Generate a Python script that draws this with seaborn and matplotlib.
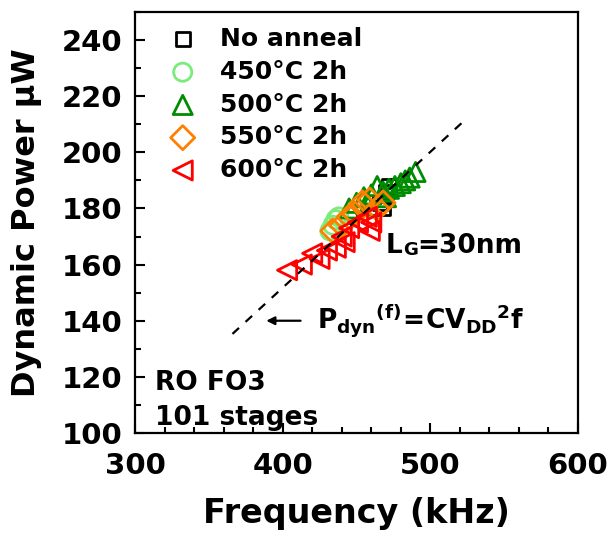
import matplotlib
matplotlib.use("Agg")
import matplotlib.pyplot as plt
from matplotlib.ticker import MultipleLocator
import numpy as np
import pandas as pd
import seaborn as sns

# Ring-oscillator measurements: frequency (kHz) vs dynamic power (uW)
series_names = ["No anneal", "450°C 2h", "500°C 2h", "550°C 2h", "600°C 2h"]

no_anneal_freq = [466, 468, 470, 472]
no_anneal_power = [182, 180, 186, 188]

a450_freq = [432, 434, 436, 438]
a450_power = [172, 174, 176, 177]

a500_freq = [445, 450, 455, 458, 460, 464, 468, 470, 472, 476, 480, 483, 486, 490]
a500_power = [180, 182, 184, 181, 185, 188, 186, 184, 187, 188, 189, 190, 191, 193]

a550_freq = [434, 440, 445, 449, 454, 459, 464, 468]
a550_power = [172, 174, 177, 178, 182, 183, 180, 182]

a600_freq = [403, 413, 420, 425, 430, 436, 440, 442, 445, 451, 457, 459, 460]
a600_power = [158, 160, 164, 162, 165, 166, 170, 168, 173, 175, 177, 172, 175]

# Reference line P_dyn = C * V_DD^2 * f
fit_freq = [366, 523]
fit_power = [135.3, 211.3]

series_freq = [no_anneal_freq, a450_freq, a500_freq, a550_freq, a600_freq]
series_power = [no_anneal_power, a450_power, a500_power, a550_power, a600_power]
series_colors = ["#000000", "#7CEB7C", "#008C00", "#FF8000", "#FF0000"]
series_markers = ["s", "o", "^", "D", "<"]
series_sizes = [100, 170, 190, 150, 190]

sns.set_theme(style="ticks")
plt.rcParams["font.family"] = ["DejaVu Sans"]
plt.rcParams["font.weight"] = "bold"
for key in ["text.color", "axes.labelcolor", "xtick.color", "ytick.color",
            "axes.edgecolor"]:
    plt.rcParams[key] = "black"
plt.rcParams["mathtext.fontset"] = "custom"
plt.rcParams["mathtext.rm"] = "DejaVu Sans:bold"
plt.rcParams["mathtext.it"] = "DejaVu Sans:bold"
plt.rcParams["mathtext.bf"] = "DejaVu Sans:bold"

fig = plt.figure(figsize=(6.13, 5.34), dpi=100)
ax = fig.add_axes([135 / 613, 1 - 433 / 534, 443 / 613, 421 / 534])

for name, fx, py, col, mk, sz in zip(series_names, series_freq, series_power,
                                      series_colors, series_markers, series_sizes):
    df = pd.DataFrame({"Frequency": fx, "Power": py})
    sns.scatterplot(data=df, x="Frequency", y="Power", ax=ax, marker=mk, s=sz,
                    facecolor="none", edgecolor=col, linewidth=2.0, label=name,
                    zorder=3)

sns.lineplot(x=fit_freq, y=fit_power, ax=ax, color="black", linewidth=1.6,
             linestyle=(0, (4, 4)), zorder=5, legend=False)

ax.set_xlim(300, 600)
ax.set_ylim(100, 250)
ax.xaxis.set_major_locator(MultipleLocator(100))
ax.xaxis.set_minor_locator(MultipleLocator(20))
ax.yaxis.set_major_locator(MultipleLocator(20))
ax.yaxis.set_minor_locator(MultipleLocator(10))
ax.set_yticks(np.arange(100, 241, 20))
ax.tick_params(which="both", direction="in", width=1.5, top=False, right=False)
ax.tick_params(which="major", length=7, labelsize=21)
ax.tick_params(axis="x", which="major", pad=14)
ax.tick_params(axis="y", which="major", pad=9)
ax.tick_params(which="minor", length=4)
for lab in ax.get_xticklabels() + ax.get_yticklabels():
    lab.set_fontweight("bold")
for sp in ax.spines.values():
    sp.set_linewidth(1.6)
    sp.set_color("black")

ax.set_xlabel("Frequency (kHz)", fontsize=24, fontweight="bold", labelpad=12)
ax.set_ylabel("Dynamic Power μW", fontsize=23, fontweight="bold", labelpad=14)

leg = ax.legend(loc="upper left", bbox_to_anchor=(0.04, 1.0), frameon=False,
                fontsize=18, handletextpad=0.9, labelspacing=0.35,
                borderaxespad=0.2, handlelength=1.2)
for t in leg.get_texts():
    t.set_fontweight("bold")

# L_G annotation with a small-cap G
t_l = ax.text(470, 164, "L", fontsize=19, fontweight="bold", va="baseline")
t_g = ax.annotate("G", xy=(1, 0), xycoords=t_l, fontsize=13, fontweight="bold",
                  va="bottom")
ax.annotate("=30nm", xy=(1, 0), xycoords=t_g, fontsize=19, fontweight="bold",
            va="bottom")

ax.annotate("", xy=(387, 140), xytext=(414, 140),
            arrowprops=dict(arrowstyle="-|>", color="black", lw=1.6,
                            mutation_scale=12))
ax.text(423, 140, r"$P_{dyn}{}^{(f)}\!=\!CV_{DD}{}^{2}f$", fontsize=19,
        va="center")

ax.text(0.045, 0.102, "RO FO3", transform=ax.transAxes, fontsize=19,
        fontweight="bold", va="baseline")
ax.text(0.045, 0.019, "101 stages", transform=ax.transAxes, fontsize=19,
        fontweight="bold", va="baseline")

fig.savefig("out.png", dpi=100)
